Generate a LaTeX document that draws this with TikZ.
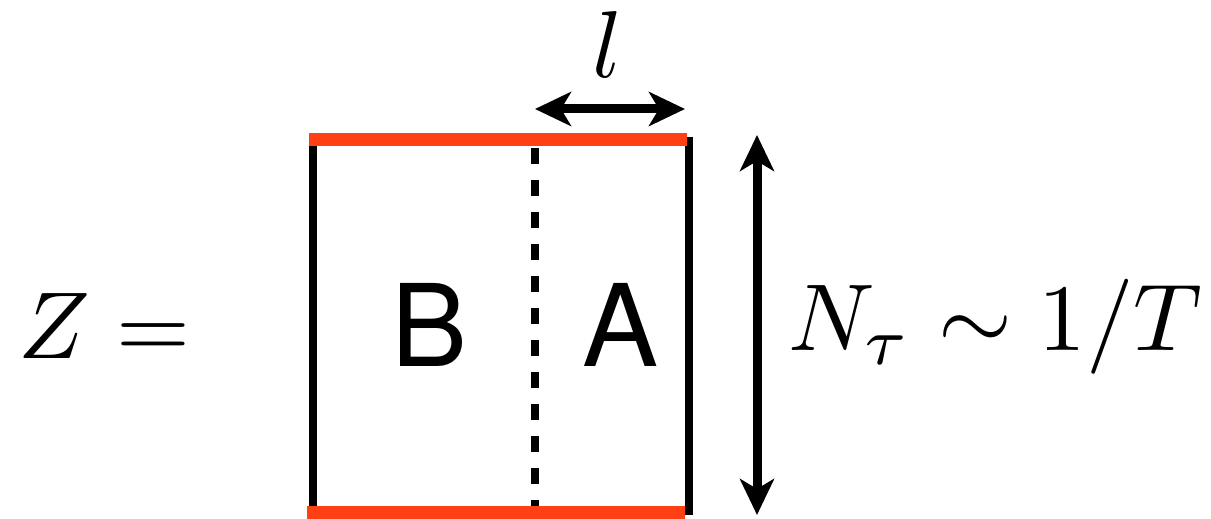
\documentclass[tikz,border=0pt]{standalone}
\usepackage{graphicx}
\usepackage{fontspec}
\setsansfont{TeX Gyre Heros}
\usetikzlibrary{arrows.meta}
\definecolor{redline}{RGB}{255,64,21}
\newcommand{\bigmath}[1]{\scalebox{4.75}{$#1$}}
\begin{document}
\begin{tikzpicture}[x=0.5pt,y=-0.5pt,
  blackline/.style={line width=4pt,black},
  redbar/.style={line width=6.5pt,redline},
  dimarrow/.style={line width=4.5pt,{Stealth[length=18pt,width=17pt,inset=5pt]}-{Stealth[length=18pt,width=17pt,inset=5pt]}},
  mathlabel/.style={inner sep=0pt,font=\normalsize},
  sanslabel/.style={inner sep=0pt,font=\fontsize{57}{60}\selectfont\sffamily}]
\useasboundingbox (0,0) rectangle (1211,519);
% coordinates
\coordinate (lt) at (313,140);
\coordinate (lb) at (313,507);
\coordinate (rt) at (689,137);
\coordinate (rb) at (689,515);
\coordinate (dt) at (535,148);
\coordinate (db) at (535,516);
\coordinate (tl) at (309,139.5);
\coordinate (tr) at (687,139.5);
\coordinate (bl) at (307,512.5);
\coordinate (br) at (685,512.5);
\coordinate (hl) at (535,109);
\coordinate (hr) at (685,109);
\coordinate (vt) at (757,135);
\coordinate (vb) at (757,515);
% box
\draw[blackline] (lt) -- (lb);
\draw[blackline] (rt) -- (rb);
\draw[line width=4pt,dash pattern=on 8pt off 8pt] (dt) -- (db);
\draw[redbar] (tl) -- (tr);
\draw[redbar] (bl) -- (br);
% arrows
\draw[dimarrow] (hl) -- (hr);
\draw[dimarrow] (vt) -- (vb);
% labels
\node[mathlabel,anchor=base west] (z) at (18,358) {\bigmath{Z=}};
\node[mathlabel,anchor=base] (l) at (608,78) {\bigmath{l}};
\node[mathlabel,anchor=base west] (n) at (788,350) {\bigmath{N_\tau\sim 1/T}};
\node[sanslabel,anchor=base west] (b) at (391,366) {B};
\node[sanslabel,anchor=base west] (a) at (582,366) {A};
\end{tikzpicture}
\end{document}
